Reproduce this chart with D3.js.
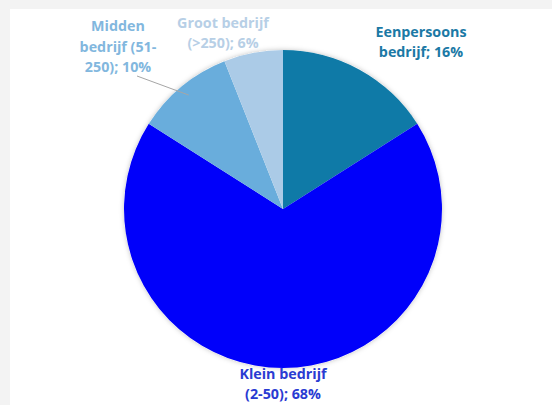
<!DOCTYPE html>
<html><head><meta charset="utf-8">
<script src="https://cdn.jsdelivr.net/npm/d3@7"></script>
<style>html,body{margin:0;padding:0;background:#f3f3f3;}svg{display:block;}</style>
</head><body>
<svg id="c" width="552" height="405"></svg>
<script>
const categories = ["Eenpersoons bedrijf", "Klein bedrijf (2-50)", "Midden bedrijf (51-250)", "Groot bedrijf (>250)"];
const values = [16, 68, 10, 6];
const sliceColors = ["#0f7aa7", "#0000fa", "#69addc", "#abcbe7"];
const labelColors = ["#1b79a5", "#2a3bd2", "#82b7de", "#b7cfe6"];
const labelLines = [["Eenpersoons", "bedrijf; 16%"], ["Klein bedrijf", "(2-50); 68%"], ["Midden", "bedrijf (51-", "250); 10%"], ["Groot bedrijf", "(>250); 6%"]];

const svg = d3.select("#c");
svg.append("rect").attr("x", 10).attr("y", 9).attr("width", 542).attr("height", 396).attr("fill", "#ffffff");

const defs = svg.append("defs");
const f = defs.append("filter").attr("id", "sh").attr("x", "-20%").attr("y", "-20%").attr("width", "140%").attr("height", "140%");
f.append("feDropShadow").attr("dx", 0).attr("dy", 0).attr("stdDeviation", 2.5).attr("flood-color", "#000").attr("flood-opacity", 0.25);

const cx = 283, cy = 209, r = 159;
const pie = d3.pie().sort(null).value(d => d)(values);
const arc = d3.arc().innerRadius(0).outerRadius(r);
const g = svg.append("g").attr("transform", `translate(${cx},${cy})`);
g.append("circle").attr("r", r).attr("fill", "#ffffff").attr("filter", "url(#sh)");
g.selectAll("path").data(pie).join("path").attr("d", arc).attr("fill", (d, i) => sliceColors[i]);

const outer = d3.arc().innerRadius(r).outerRadius(r);
const labelPos = [[421, 37], [283, 379], [118, 31], [223, 28]];
const lh = [20, 20, 20.5, 20];

const mid = outer.centroid(pie[2]);
svg.append("polyline")
  .attr("points", `137,76 ${cx + mid[0] * 0.93},${cy + mid[1] * 0.93}`)
  .attr("fill", "none").attr("stroke", "#a6a6a6").attr("stroke-width", 1);

labelLines.forEach((lines, i) => {
  const t = svg.append("text")
    .attr("text-anchor", "middle")
    .attr("font-family", "'Open Sans', sans-serif")
    .attr("font-weight", "bold").attr("font-size", 14.3)
    .attr("fill", labelColors[i]);
  lines.forEach((s, k) => {
    t.append("tspan").attr("x", labelPos[i][0]).attr("y", labelPos[i][1] + k * lh[i]).text(s);
  });
});
</script>
</body></html>
